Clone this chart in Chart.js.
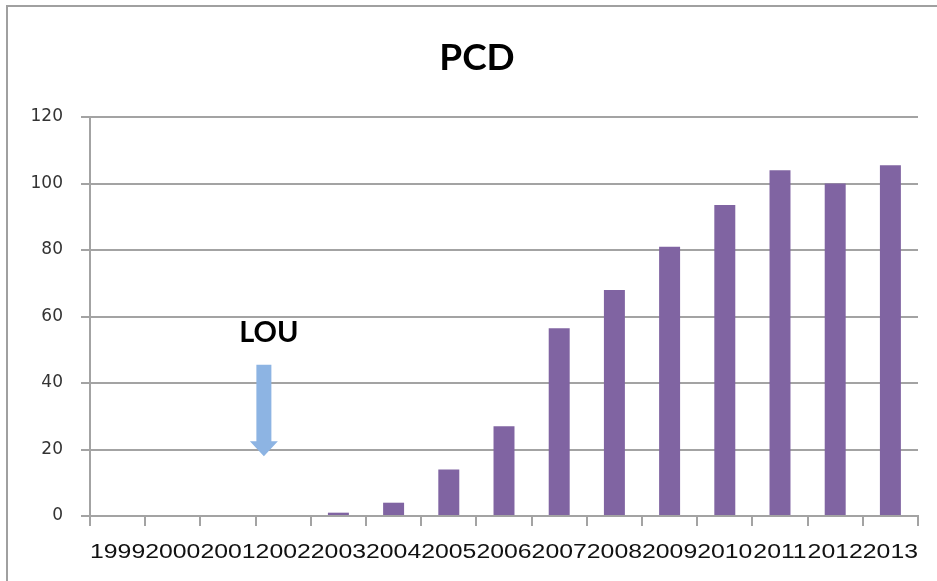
<!DOCTYPE html>
<html lang="en">
<head>
    <meta charset="UTF-8">
    <title>PCD</title>
    <script src="https://cdn.jsdelivr.net/npm/chart.js"></script>
    <style>
        html, body {
            margin: 0;
            padding: 0;
            background: #fff;
        }
        #wrap {
            width: 937px;
            height: 581px;
        }
    </style>
</head>
<body>
    <div id="wrap"><canvas id="myChart" width="937" height="581"></canvas></div>

    <script>
        // data
        const chartTitle = 'PCD';
        const years = ['1999', '2000', '2001', '2002', '2003', '2004', '2005', '2006',
            '2007', '2008', '2009', '2010', '2011', '2012', '2013'];
        const pcdValues = [0, 0, 0, 0, 1, 4, 14, 27, 56.5, 68, 81, 93.5, 104, 100, 105.5];
        const yTicks = [0, 20, 40, 60, 80, 100, 120];

        // the LOU marker: category position (index, sits a bit left of 2002) and value range of the arrow
        const markerLabel = 'LOU';
        const markerPos = 2.65;
        const markerTop = 45.5;
        const markerHead = 22.5;
        const markerTip = 18;
        const markerTextAt = 55;

        const gridColor = '#a3a3a3';

        // outer frame + title, like the pasted excel chart
        // (title drawn by hand: excel centres it on the whole frame, not the plot)
        const framePlugin = {
            id: 'frame',
            afterDraw(chart) {
                const ctx = chart.ctx;
                ctx.save();
                ctx.strokeStyle = '#a0a0a0';
                ctx.lineWidth = 2;
                ctx.beginPath();
                ctx.moveTo(7, 581);
                ctx.lineTo(7, 6);
                ctx.lineTo(937, 6);
                ctx.stroke();

                ctx.fillStyle = '#000';
                ctx.font = 'bold 37px Lato';
                ctx.textAlign = 'center';
                ctx.textBaseline = 'middle';
                ctx.fillText(chartTitle, 477, 58);
                ctx.restore();
            }
        };

        // x labels are squeezed together in the original, draw them stretched
        const xLabelPlugin = {
            id: 'xLabels',
            afterDraw(chart) {
                const ctx = chart.ctx;
                const x = chart.scales.x;
                ctx.save();
                ctx.font = '20px "Liberation Sans"';
                ctx.fillStyle = '#111';
                ctx.textAlign = 'center';
                ctx.textBaseline = 'middle';
                years.forEach((yr, i) => {
                    const cx = x.getPixelForValue(i);
                    ctx.save();
                    ctx.translate(cx, 552);
                    ctx.scale(1.24, 1);
                    ctx.fillText(yr, 0, 0);
                    ctx.restore();
                });
                ctx.restore();
            }
        };

        const markerPlugin = {
            id: 'marker',
            afterDatasetsDraw(chart) {
                const ctx = chart.ctx;
                const xs = chart.scales.x;
                const ys = chart.scales.y;
                const cx = xs.getPixelForValue(markerPos);
                const top = ys.getPixelForValue(markerTop);
                const head = ys.getPixelForValue(markerHead);
                const tip = ys.getPixelForValue(markerTip);
                ctx.save();
                ctx.fillStyle = '#8db4e3';
                ctx.beginPath();
                ctx.moveTo(cx - 7.5, top);
                ctx.lineTo(cx + 7.5, top);
                ctx.lineTo(cx + 7.5, head);
                ctx.lineTo(cx + 14, head);
                ctx.lineTo(cx, tip);
                ctx.lineTo(cx - 14, head);
                ctx.lineTo(cx - 7.5, head);
                ctx.closePath();
                ctx.fill();

                ctx.fillStyle = '#000';
                ctx.font = 'bold 29px Lato';
                ctx.textAlign = 'center';
                ctx.textBaseline = 'middle';
                ctx.fillText(markerLabel, cx + 5, ys.getPixelForValue(markerTextAt));
                ctx.restore();
            }
        };

        const ctx = document.getElementById('myChart').getContext('2d');

        new Chart(ctx, {
            type: 'bar',
            data: {
                labels: years,
                datasets: [{
                    label: 'PCD',
                    data: pcdValues,
                    backgroundColor: '#8064a2',
                    borderWidth: 0,
                    barPercentage: 0.38,
                    categoryPercentage: 1
                }]
            },
            options: {
                responsive: false,
                animation: false,
                layout: {
                    padding: { left: 0, right: 19, top: 117, bottom: 0 }
                },
                scales: {
                    x: {
                        grid: {
                            display: true,
                            drawOnChartArea: false,
                            drawTicks: true,
                            tickLength: 10,
                            color: gridColor,
                            lineWidth: 2,
                            offset: true
                        },
                        border: { color: gridColor, width: 2 },
                        ticks: { display: false },
                        afterFit(scale) {
                            scale.height = 65;
                        }
                    },
                    y: {
                        min: 0,
                        max: 120,
                        afterBuildTicks(scale) {
                            scale.ticks = yTicks.map(v => ({ value: v }));
                        },
                        grid: {
                            color: gridColor,
                            lineWidth: 2,
                            tickLength: 9
                        },
                        border: { color: gridColor, width: 2 },
                        ticks: {
                            color: '#333',
                            padding: 18,
                            font: { family: 'DejaVu Sans', size: 17 }
                        },
                        afterFit(scale) {
                            scale.width = 90;
                        }
                    }
                },
                plugins: {
                    legend: { display: false },
                    tooltip: { enabled: false },
                    title: { display: false }
                }
            },
            plugins: [framePlugin, xLabelPlugin, markerPlugin]
        });
    </script>
</body>
</html>
